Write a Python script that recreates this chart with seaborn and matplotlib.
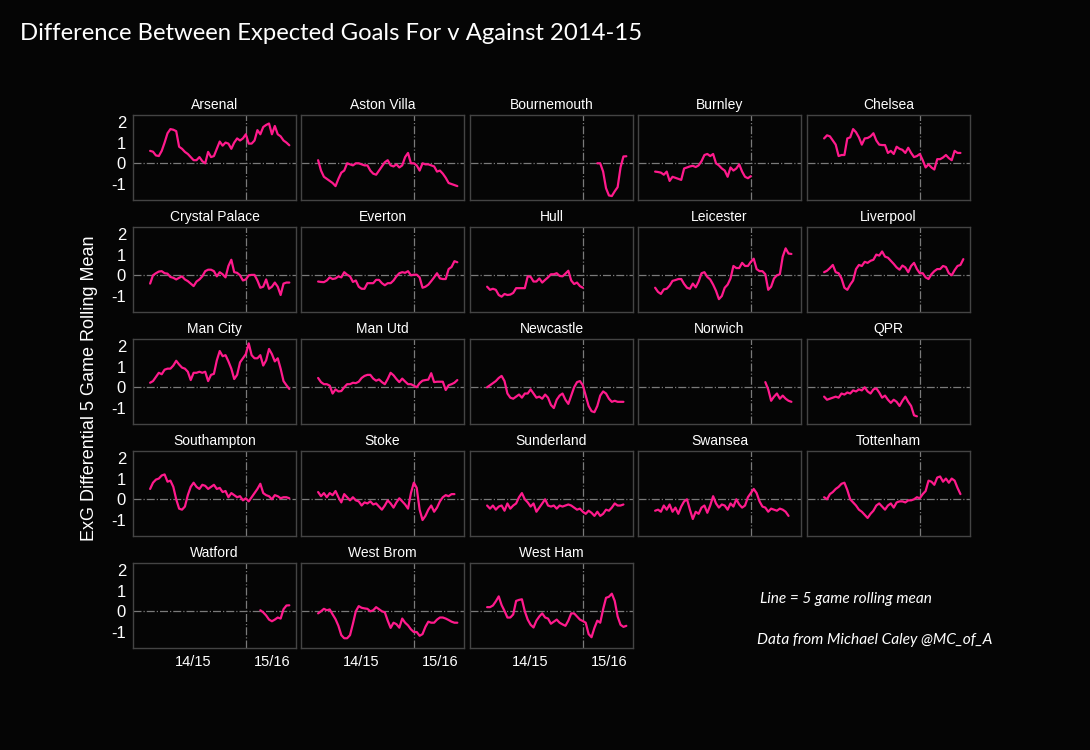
import pandas as pd
import matplotlib
matplotlib.use('Agg')
import matplotlib.pyplot as plt
import seaborn as sns

# 5 game rolling mean of xG for minus xG against, by game number (14/15 then 15/16)
arsenal = [0.6, 0.56, 0.38, 0.35, 0.6, 1.0, 1.45, 1.65, 1.62, 1.55, 0.8, 0.7, 0.55, 0.45, 0.3, 0.15, 0.15, 0.3, 0.1, 0.0,
           0.55, 0.3, 0.35, 0.7, 1.05, 0.85, 1.0, 0.95, 0.7, 1.0, 1.2, 1.1, 1.2, 1.4, 0.95, 0.95, 1.1, 1.6, 1.4, 1.75,
           1.85, 1.92, 1.4, 1.8, 1.4, 1.3, 1.1, 1.0, 0.87]
aston_villa = [0.15, -0.35, -0.65, -0.75, -0.85, -0.95, -1.1, -0.75, -0.45, -0.35, 0.0, -0.05, -0.1, 0.0, 0.0, -0.05,
               -0.1, -0.1, -0.35, -0.5, -0.55, -0.35, -0.15, 0.05, 0.15, -0.1, -0.15, -0.05, -0.2, -0.1, 0.3, 0.5,
               0.0, 0.0, -0.1, -0.35, 0.0, -0.05, -0.05, -0.1, -0.15, -0.4, -0.35, -0.5, -0.7, -0.95, -1.0, -1.05, -1.1]
bournemouth = [0.0, 0.0, -0.4, -1.2, -1.55, -1.58, -1.35, -1.15, -0.2, 0.33, 0.34]
burnley = [-0.4, -0.42, -0.45, -0.55, -0.4, -0.85, -0.65, -0.7, -0.75, -0.8, -0.25, -0.2, -0.15, -0.12, -0.18, -0.1,
           0.1, 0.4, 0.45, 0.35, 0.45, 0.0, -0.1, -0.25, -0.35, -0.65, -0.2, -0.35, -0.25, -0.05, -0.4, -0.65, -0.72, -0.62]
chelsea = [1.2, 1.35, 1.3, 1.1, 0.9, 0.35, 0.4, 0.4, 1.2, 1.25, 1.65, 1.5, 1.25, 0.9, 1.2, 1.22, 1.3, 1.45, 1.1, 0.9,
           0.88, 0.88, 0.5, 0.6, 0.45, 0.8, 0.7, 0.65, 0.5, 0.75, 0.5, 0.3, 0.35, 0.45, 0.15, -0.2, -0.05, -0.2, -0.3,
           0.2, 0.2, 0.28, 0.4, 0.25, 0.15, 0.6, 0.5, 0.5]
crystal_palace = [-0.4, 0.0, 0.1, 0.18, 0.2, 0.1, 0.08, -0.08, -0.12, -0.2, -0.12, -0.05, -0.2, -0.28, -0.4, -0.52,
                  -0.3, -0.2, -0.05, 0.2, 0.27, 0.27, 0.2, -0.05, 0.15, 0.05, -0.1, 0.45, 0.75, 0.15, 0.12, 0.0, -0.25,
                  -0.2, 0.0, 0.02, 0.02, -0.25, -0.6, -0.55, -0.2, -0.65, -0.55, -0.35, -0.55, -0.95, -0.4, -0.35, -0.35]
everton = [-0.3, -0.32, -0.33, -0.25, -0.1, -0.18, -0.15, -0.05, -0.1, 0.15, 0.03, -0.05, -0.32, -0.25, -0.55, -0.65,
           -0.65, -0.38, -0.38, -0.38, -0.22, -0.22, -0.38, -0.48, -0.38, -0.38, -0.25, -0.05, 0.1, 0.15, 0.12, 0.2,
           0.0, 0.03, 0.03, -0.1, -0.6, -0.55, -0.45, -0.28, -0.1, 0.1, -0.15, -0.18, -0.18, 0.3, 0.4, 0.68, 0.63]
hull = [-0.55, -0.7, -0.65, -0.7, -0.95, -1.03, -0.9, -0.95, -0.93, -0.85, -0.62, -0.62, -0.62, -0.62, -0.05, -0.07,
        -0.3, -0.3, -0.15, -0.35, -0.22, -0.1, 0.05, 0.05, 0.1, -0.03, -0.05, 0.08, 0.22, -0.25, -0.42, -0.35, -0.52, -0.6]
leicester = [-0.6, -0.8, -0.9, -0.68, -0.65, -0.5, -0.27, -0.23, -0.18, -0.18, -0.42, -0.6, -0.65, -0.4, -0.58, -0.3,
             0.1, 0.15, -0.08, -0.2, -0.45, -0.75, -1.15, -1.0, -0.6, -0.45, -0.15, 0.45, 0.35, 0.35, 0.6, 0.45, 0.45,
             0.65, 0.8, 0.3, 0.2, 0.2, 0.05, -0.7, -0.55, -0.15, 0.0, 0.05, 0.9, 1.3, 1.05, 1.03]
liverpool = [0.15, 0.22, 0.35, 0.5, 0.15, 0.1, -0.15, -0.6, -0.7, -0.45, -0.25, 0.3, 0.5, 0.45, 0.65, 0.6, 0.7, 0.75,
             1.0, 0.95, 1.15, 0.9, 0.85, 0.7, 0.55, 0.38, 0.27, 0.47, 0.38, 0.15, 0.45, 0.6, 0.3, 0.1, 0.1, -0.1,
             -0.18, 0.05, 0.2, 0.3, 0.3, 0.45, 0.4, 0.1, 0.0, 0.25, 0.45, 0.5, 0.78]
man_city = [0.22, 0.3, 0.5, 0.7, 0.63, 0.85, 0.9, 0.9, 1.05, 1.28, 1.1, 0.95, 0.9, 0.75, 0.35, 0.7, 0.7, 0.75, 0.7,
            0.75, 0.3, 0.6, 0.65, 1.3, 1.75, 1.5, 1.55, 1.25, 0.9, 0.4, 0.6, 1.2, 1.4, 1.6, 2.12, 1.55, 1.4, 1.4,
            1.55, 1.05, 1.3, 1.85, 1.6, 1.25, 1.4, 0.9, 0.3, 0.1, -0.08]
man_utd = [0.45, 0.25, 0.15, 0.15, 0.08, -0.3, -0.1, -0.2, -0.18, 0.0, 0.15, 0.15, 0.22, 0.2, 0.27, 0.45, 0.55, 0.6,
           0.6, 0.42, 0.32, 0.38, 0.25, 0.15, 0.4, 0.7, 0.58, 0.4, 0.25, 0.42, 0.28, 0.15, 0.15, 0.08, 0.0, 0.2,
           0.32, 0.35, 0.37, 0.68, 0.25, 0.27, 0.27, 0.27, -0.13, 0.1, 0.15, 0.22, 0.35]
newcastle = [0.0, 0.1, 0.2, 0.3, 0.45, 0.55, 0.3, -0.3, -0.5, -0.55, -0.45, -0.35, -0.5, -0.3, -0.3, -0.1, -0.3, -0.5,
             -0.45, -0.55, -0.35, -0.5, -0.85, -1.0, -0.6, -0.4, -0.3, -0.6, -0.8, -0.4, 0.0, 0.25, 0.3, 0.1, -0.4,
             -0.9, -1.15, -1.2, -0.9, -0.4, -0.2, -0.3, -0.55, -0.7, -0.65, -0.7, -0.7, -0.7]
norwich = [0.25, -0.1, -0.65, -0.45, -0.3, -0.55, -0.4, -0.55, -0.65, -0.7]
qpr = [-0.45, -0.6, -0.55, -0.5, -0.45, -0.5, -0.3, -0.35, -0.25, -0.3, -0.15, -0.2, -0.1, -0.15, 0.0, -0.2, -0.3,
       -0.1, -0.05, -0.25, -0.5, -0.4, -0.6, -0.75, -0.6, -0.7, -0.9, -0.65, -0.45, -0.7, -0.9, -1.35, -1.4]
southampton = [0.5, 0.8, 0.95, 1.0, 1.15, 1.2, 0.85, 0.9, 0.6, 0.0, -0.45, -0.5, -0.35, 0.2, 0.6, 0.8, 0.6, 0.5, 0.7,
               0.65, 0.5, 0.6, 0.7, 0.5, 0.55, 0.35, 0.4, 0.1, 0.3, 0.2, 0.1, 0.15, -0.05, 0.05, -0.1, 0.1, 0.3, 0.5,
               0.75, 0.3, 0.2, 0.15, 0.0, 0.2, 0.15, 0.05, 0.1, 0.1, 0.05]
stoke = [0.35, 0.15, 0.3, 0.1, 0.3, 0.2, 0.4, 0.1, -0.15, 0.25, 0.1, -0.05, 0.1, -0.05, -0.1, -0.3, -0.15, -0.2, -0.1,
         -0.25, -0.2, -0.35, -0.5, -0.3, -0.05, -0.2, -0.4, -0.15, 0.05, -0.1, -0.25, -0.45, 0.3, 0.8, 0.55, -0.5,
         -1.0, -0.8, -0.5, -0.3, -0.6, -0.4, -0.1, 0.1, 0.2, 0.15, 0.25, 0.25]
sunderland = [-0.3, -0.45, -0.3, -0.5, -0.35, -0.3, -0.55, -0.2, -0.45, -0.3, -0.2, 0.1, 0.3, 0.0, -0.15, -0.35, -0.2,
              -0.6, -0.4, -0.2, 0.0, -0.3, -0.35, -0.3, -0.45, -0.3, -0.35, -0.3, -0.25, -0.3, -0.4, -0.5, -0.45,
              -0.6, -0.7, -0.55, -0.65, -0.8, -0.6, -0.8, -0.7, -0.5, -0.55, -0.4, -0.2, -0.3, -0.3, -0.25]
swansea = [-0.55, -0.5, -0.6, -0.3, -0.5, -0.25, -0.6, -0.4, -0.7, -0.35, -0.1, 0.0, -0.5, -0.95, -0.6, -0.7, -0.4,
           -0.3, -0.65, -0.3, 0.15, -0.2, -0.4, -0.25, -0.3, -0.5, -0.2, -0.35, 0.0, -0.25, -0.4, -0.3, 0.1, 0.3,
           0.5, 0.3, -0.1, -0.35, -0.4, -0.6, -0.45, -0.5, -0.55, -0.45, -0.5, -0.6, -0.8]
tottenham = [0.1, 0.0, 0.25, 0.35, 0.5, 0.6, 0.75, 0.8, 0.45, 0.0, -0.15, -0.3, -0.5, -0.6, -0.75, -0.9, -0.7, -0.55,
             -0.3, -0.2, -0.35, -0.5, -0.3, -0.2, -0.4, -0.15, -0.1, -0.1, -0.15, -0.05, -0.05, 0.0, 0.1, 0.05,
             0.25, 0.4, 0.9, 0.85, 0.7, 1.05, 1.1, 0.85, 1.0, 0.8, 1.0, 0.9, 0.55, 0.25]
watford = [0.05, -0.05, -0.2, -0.4, -0.48, -0.4, -0.3, -0.35, 0.1, 0.28, 0.29]
west_brom = [-0.1, 0.0, 0.12, 0.05, 0.09, -0.15, -0.38, -0.7, -1.15, -1.3, -1.3, -1.15, -0.6, 0.0, 0.25, 0.17, 0.14,
             0.12, 0.0, 0.05, 0.2, 0.1, 0.0, -0.05, -0.45, -0.8, -0.55, -0.62, -0.79, -0.35, -0.55, -0.68, -0.87,
             -1.0, -1.0, -1.18, -1.1, -0.75, -0.5, -0.55, -0.55, -0.4, -0.3, -0.3, -0.35, -0.42, -0.5, -0.55, -0.55]
west_ham = [0.2, 0.2, 0.28, 0.48, 0.72, 0.3, 0.02, -0.3, -0.3, -0.15, 0.5, 0.55, 0.58, 0.0, -0.4, -0.65, -0.78, -0.45,
            -0.25, -0.1, -0.3, -0.35, -0.6, -0.5, -0.4, -0.55, -0.63, -0.7, -0.45, -0.1, -0.1, -0.25, -0.4, -0.47,
            -0.55, -1.1, -1.25, -0.8, -0.45, -0.55, 0.1, 0.65, 0.7, 0.85, 0.5, -0.25, -0.65, -0.75, -0.7]

teams = ['Arsenal', 'Aston Villa', 'Bournemouth', 'Burnley', 'Chelsea',
         'Crystal Palace', 'Everton', 'Hull', 'Leicester', 'Liverpool',
         'Man City', 'Man Utd', 'Newcastle', 'Norwich', 'QPR',
         'Southampton', 'Stoke', 'Sunderland', 'Swansea', 'Tottenham',
         'Watford', 'West Brom', 'West Ham']
series = [arsenal, aston_villa, bournemouth, burnley, chelsea,
          crystal_palace, everton, hull, leicester, liverpool,
          man_city, man_utd, newcastle, norwich, qpr,
          southampton, stoke, sunderland, swansea, tottenham,
          watford, west_brom, west_ham]
# first game with a 5 game mean (promoted sides start in 15/16)
first_game = [5, 5, 43, 5, 5, 5, 5, 5, 5, 5, 5, 5, 5, 43, 5, 5, 5, 5, 5, 5, 43, 5, 5]

season_labels = ['14/15', '15/16']
season_ticks = [19.8, 47.1]
season_break = 38.2

rows = []
for team, vals, g0 in zip(teams, series, first_game):
    for i, v in enumerate(vals):
        rows.append({'team': team, 'game': g0 + i, 'xg_diff': v})
df = pd.DataFrame(rows)

sns.set_style('dark')
bg = '#050505'
plt.rcParams['font.family'] = ['Liberation Sans', 'DejaVu Sans']
plt.rcParams['axes.facecolor'] = bg
plt.rcParams['figure.facecolor'] = bg

fig = plt.figure(figsize=(10.9, 7.5), dpi=100)

col_left = [133, 301, 470, 638, 807]
row_top = [115, 227, 339, 451, 563]
W, H = 163, 85

for k, team in enumerate(teams):
    r, c = divmod(k, 5)
    ax = fig.add_axes([col_left[c] / 1090, 1 - (row_top[r] + H) / 750, W / 1090, H / 750])
    ax.set_facecolor(bg)
    ax.axhline(0, color='#7a7a7a', lw=0.9, ls='-.', zorder=1)
    ax.axvline(season_break, color='#7a7a7a', lw=0.9, ls='-.', zorder=1)
    sns.lineplot(data=df[df['team'] == team], x='game', y='xg_diff', ax=ax,
                 color='#ff1a8c', lw=1.6, zorder=3)
    ax.set_xlim(-0.9, 55.3)
    ax.set_ylim(-1.77, 2.33)
    ax.set_xlabel('')
    ax.set_ylabel('')
    ax.set_title(team, color='white', fontsize=10, pad=4)
    ax.set_yticks([-1, 0, 1, 2])
    ax.set_xticks(season_ticks)
    ax.grid(False)
    for s in ax.spines.values():
        s.set_visible(True)
        s.set_color('#444444')
        s.set_linewidth(1.0)
    ax.tick_params(length=0, colors='white', labelsize=12, pad=5)
    if c == 0:
        ax.set_yticklabels(['-1', '0', '1', '2'])
    else:
        ax.set_yticklabels([])
    if r == 4:
        ax.set_xticklabels(season_labels, fontsize=10.5)
    else:
        ax.set_xticklabels([])

fig.text(20 / 1090, 1 - 33 / 750, 'Difference Between Expected Goals For v Against 2014-15',
         color='white', fontsize=17.2, family=['Lato', 'DejaVu Sans'], va='center', ha='left')
fig.text(90 / 1090, 1 - 388 / 750, 'ExG Differential 5 Game Rolling Mean',
         color='white', fontsize=13, rotation=90, va='center', ha='center')
fig.text(760 / 1090, 1 - 599 / 750, 'Line = 5 game rolling mean', color='white',
         fontsize=11.1, style='italic', family=['Lato', 'DejaVu Sans'], va='center', ha='left')
fig.text(757 / 1090, 1 - 640 / 750, 'Data from Michael Caley @MC_of_A', color='white',
         fontsize=11.2, style='italic', family=['Lato', 'DejaVu Sans'], va='center', ha='left')

fig.savefig('out.png', dpi=100, facecolor=bg)
